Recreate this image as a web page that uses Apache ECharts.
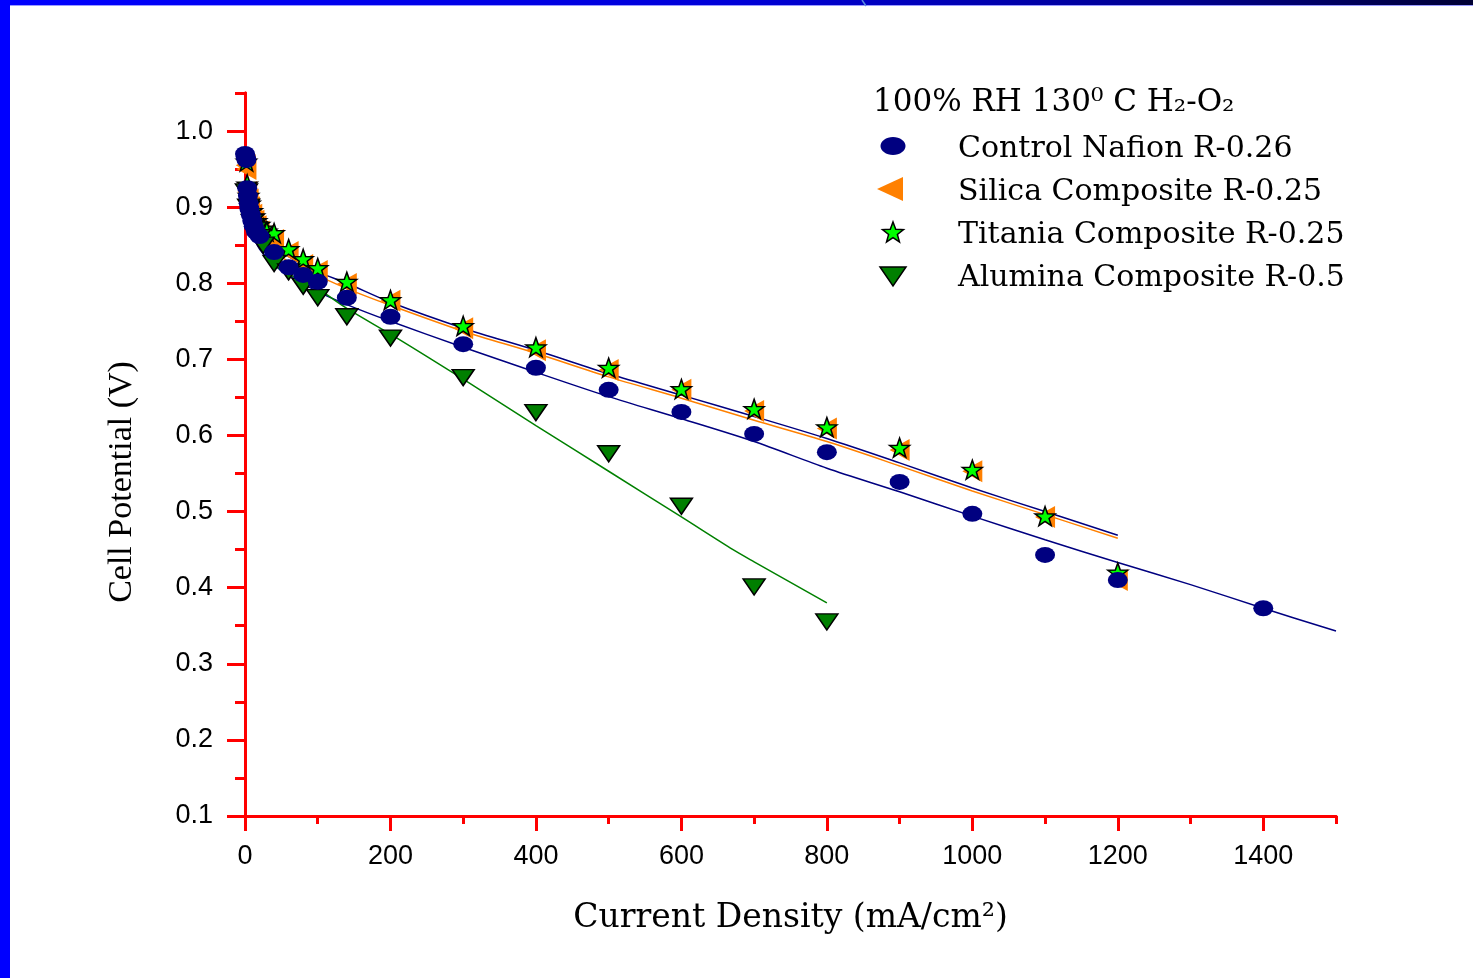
<!DOCTYPE html>
<html>
<head>
<meta charset="utf-8">
<style>
html,body{margin:0;padding:0;background:#fff;}
#chart{width:1473px;height:978px;}
</style>
<script src="https://cdn.jsdelivr.net/npm/echarts@6/dist/echarts.min.js"></script>
</head>
<body>
<div id="chart"></div>
<script>
// ---- data ----
const seriesNames = ['Control Nafion R-0.26','Silica Composite R-0.25','Titania Composite R-0.25','Alumina Composite R-0.5'];
const legendTitle = '100% RH 130\u2070 C H\u2082-O\u2082';

const controlX = [0,1,2,3,4,5,6,8,10,12,15,20,40,60,80,100,140,200,300,400,500,600,700,800,900,1000,1100,1200,1400];
const controlY = [0.970,0.966,0.962,0.925,0.915,0.905,0.898,0.890,0.882,0.875,0.868,0.862,0.841,0.821,0.811,0.802,0.781,0.756,0.720,0.689,0.660,0.631,0.602,0.578,0.539,0.497,0.443,0.410,0.373];

const silicaX = [1,2,3,5,7,10,13,16,20,25,40,60,80,100,140,200,300,400,500,600,700,800,900,1000,1100,1200];
const silicaY = [0.955,0.950,0.920,0.910,0.900,0.890,0.882,0.875,0.868,0.862,0.857,0.841,0.824,0.816,0.799,0.777,0.741,0.712,0.686,0.660,0.632,0.609,0.581,0.553,0.493,0.410];

const titaniaX = [2,3,5,7,10,13,16,20,25,30,40,60,80,100,140,200,300,400,500,600,700,800,900,1000,1100,1200];
const titaniaY = [0.960,0.930,0.915,0.905,0.895,0.888,0.882,0.877,0.872,0.868,0.866,0.845,0.832,0.820,0.802,0.778,0.744,0.716,0.689,0.661,0.635,0.611,0.584,0.555,0.494,0.420];

const aluminaX = [2,5,10,15,20,25,40,60,80,100,140,200,300,400,500,600,700,800];
const aluminaY = [0.920,0.900,0.880,0.870,0.860,0.850,0.826,0.815,0.796,0.781,0.756,0.728,0.676,0.630,0.576,0.507,0.401,0.355];

// fitted curves as drawn in the reference
const controlFitX = [2,5,10,20,40,60,100,140,200,300,400,500,600,700,800,900,1000,1100,1200,1300,1400,1500];
const controlFitY = [0.910,0.885,0.865,0.845,0.824,0.810,0.789,0.772,0.750,0.716,0.683,0.651,0.622,0.592,0.557,0.526,0.494,0.463,0.433,0.404,0.373,0.343];

const silicaFitX = [5,10,20,40,60,100,140,200,300,400,500,600,700,800,900,1000,1100,1200];
const silicaFitY = [0.907,0.890,0.872,0.844,0.828,0.810,0.793,0.771,0.737,0.708,0.677,0.649,0.620,0.592,0.560,0.527,0.496,0.465];

const titaniaFitX = [5,10,20,40,60,100,140,200,300,400,500,600,700,800,900,1000,1100,1200];
const titaniaFitY = [0.910,0.894,0.876,0.848,0.835,0.815,0.800,0.775,0.741,0.712,0.681,0.653,0.625,0.596,0.564,0.531,0.500,0.469];

const aluminaFitX = [4,10,16,25,44,60,80,103,140,209,300,400,500,600,671,700,800];
const aluminaFitY = [0.900,0.882,0.870,0.850,0.822,0.812,0.802,0.791,0.767,0.728,0.674,0.613,0.553,0.493,0.450,0.434,0.380];

const xMajorTicks = [0,200,400,600,800,1000,1200,1400];
const xMinorTicks = [100,300,500,700,900,1100,1300,1500];
const yMajorTicks = [0.1,0.2,0.3,0.4,0.5,0.6,0.7,0.8,0.9,1.0];
const yMinorTicks = [0.15,0.25,0.35,0.45,0.55,0.65,0.75,0.85,0.95,1.05];

// ---- build chart ----
const zip = (xs, ys) => xs.map((x, i) => [x, ys[i]]);
const STAR = 'path://M0,-10L2.35,-3.24L9.51,-3.09L3.8,1.24L5.88,8.09L0,4L-5.88,8.09L-3.8,1.24L-9.51,-3.09L-2.35,-3.24Z';
const RED = '#ff0000';
const NAVY = '#000080', ORANGE = '#ff8000', LIME = '#00ff00', DKGREEN = '#007f00';

const chart = echarts.init(document.getElementById('chart'), null, {renderer: 'canvas'});

function xAxisCfg(major) {
  return {
    type: 'value', min: 0, max: 1500, position: 'bottom',
    axisLine: {show: true, onZero: false, lineStyle: {color: RED, width: 3}},
    axisTick: {show: true, inside: false, length: major ? 15 : 8, lineStyle: {color: RED, width: 3},
      customValues: major ? xMajorTicks : xMinorTicks},
    axisLabel: major ? {show: true, customValues: xMajorTicks, margin: 27,
      fontFamily: 'Liberation Sans', fontSize: 27, color: '#000', formatter: v => String(v)} : {show: false},
    splitLine: {show: false},
    name: major ? 'Current Density (mA/cm\u00b2)' : '',
    nameLocation: 'middle', nameGap: 86,
    nameTextStyle: {fontFamily: 'DejaVu Serif', fontSize: 33, color: '#000'}
  };
}
function yAxisCfg(major) {
  return {
    type: 'value', min: 0.1, max: 1.05, position: 'left',
    axisLine: {show: true, onZero: false, lineStyle: {color: RED, width: 3}},
    axisTick: {show: true, inside: false, length: major ? 18 : 10, lineStyle: {color: RED, width: 3},
      customValues: major ? yMajorTicks : yMinorTicks},
    axisLabel: major ? {show: true, customValues: yMajorTicks, margin: 32,
      fontFamily: 'Liberation Sans', fontSize: 27, color: '#000', formatter: v => v.toFixed(1)} : {show: false},
    splitLine: {show: false}
  };
}

function scatter(name, xs, ys, symbol, size, color, border, rotate, z) {
  return {
    name, type: 'scatter', data: zip(xs, ys), symbol, symbolSize: size, symbolRotate: rotate,
    itemStyle: {color, borderColor: border ? '#000' : color, borderWidth: border ? 1.5 : 0, opacity: 1},
    z, silent: true
  };
}
function fit(xs, ys, color, z) {
  return {
    type: 'line', data: zip(xs, ys), showSymbol: false, symbol: 'none', smooth: 0.3,
    lineStyle: {color, width: 1.5}, z, silent: true
  };
}

// legend drawn as graphics
const LX = 893, LTX = 958, rows = [146, 189, 232, 275];
function starPoints(cx, cy, R, r) {
  const pts = [];
  for (let i = 0; i < 10; i++) {
    const a = -Math.PI / 2 + i * Math.PI / 5;
    const rr = i % 2 === 0 ? R : r;
    pts.push([cx + rr * Math.cos(a), cy + rr * Math.sin(a)]);
  }
  return pts;
}
const legendGraphics = [
  {type: 'text', x: 873, y: 103, style: {text: legendTitle, font: '31px "DejaVu Serif"', fill: '#000', textVerticalAlign: 'middle'}},
  {type: 'ellipse', shape: {cx: LX, cy: rows[0], rx: 12.5, ry: 9}, style: {fill: NAVY}},
  {type: 'polygon', shape: {points: [[877, rows[1]], [903, rows[1] - 12], [903, rows[1] + 12]]}, style: {fill: ORANGE}},
  {type: 'polygon', shape: {points: starPoints(LX, rows[2] + 1, 11, 4.6)}, style: {fill: LIME, stroke: '#000', lineWidth: 1.5}},
  {type: 'polygon', shape: {points: [[880, rows[3] - 8], [906, rows[3] - 8], [893, rows[3] + 11]]}, style: {fill: DKGREEN, stroke: '#000', lineWidth: 1.5}},
].concat(seriesNames.map((n, i) => ({
  type: 'text', x: LTX, y: rows[i] + 3, style: {text: n, font: '30px "DejaVu Serif"', fill: '#000', textVerticalAlign: 'middle'}
})));

const frame = [
  {type: 'rect', shape: {x: 0, y: 0, width: 10, height: 978}, style: {fill: '#0000ff'}, z: 100},
  {type: 'rect', shape: {x: 0, y: 0, width: 1473, height: 5},
    style: {fill: new echarts.graphic.LinearGradient(0, 0, 1, 0, [
      {offset: 0, color: '#0000ff'}, {offset: 0.5, color: '#0000d8'}, {offset: 0.8, color: '#000090'}, {offset: 1, color: '#000033'}])}, z: 100},
  {type: 'rect', shape: {x: 10, y: 5, width: 1463, height: 1}, style: {fill: '#9a9aff'}, z: 100},
  {type: 'line', shape: {x1: 862, y1: 0, x2: 866, y2: 6}, style: {stroke: '#5a8ae0', lineWidth: 1.5}, z: 101},
  {type: 'text', x: 122, y: 482, rotation: Math.PI / 2,
    style: {text: 'Cell Potential (V)', font: '34px "Liberation Serif"', fill: '#000', textAlign: 'center', textVerticalAlign: 'middle'}}
];

chart.setOption({
  animation: false,
  backgroundColor: '#fff',
  grid: {left: 245, top: 93, right: 137, bottom: 162, containLabel: false},
  xAxis: [xAxisCfg(true), xAxisCfg(false)],
  yAxis: [yAxisCfg(true), yAxisCfg(false)],
  series: [
    fit(controlFitX, controlFitY, NAVY, 2),
    fit(silicaFitX, silicaFitY, ORANGE, 2),
    fit(titaniaFitX, titaniaFitY, NAVY, 2),
    fit(aluminaFitX, aluminaFitY, '#008000', 2),
    scatter(seriesNames[1], silicaX, silicaY, 'triangle', [22, 20], ORANGE, false, 90, 3),
    scatter(seriesNames[2], titaniaX, titaniaY, STAR, [20, 19], LIME, true, 0, 4),
    scatter(seriesNames[3], aluminaX, aluminaY, 'triangle', [22, 16], DKGREEN, true, 180, 5),
    scatter(seriesNames[0], controlX, controlY, 'circle', [20, 16], NAVY, false, 0, 6)
  ],
  graphic: legendGraphics.concat(frame)
});
</script>
</body>
</html>
